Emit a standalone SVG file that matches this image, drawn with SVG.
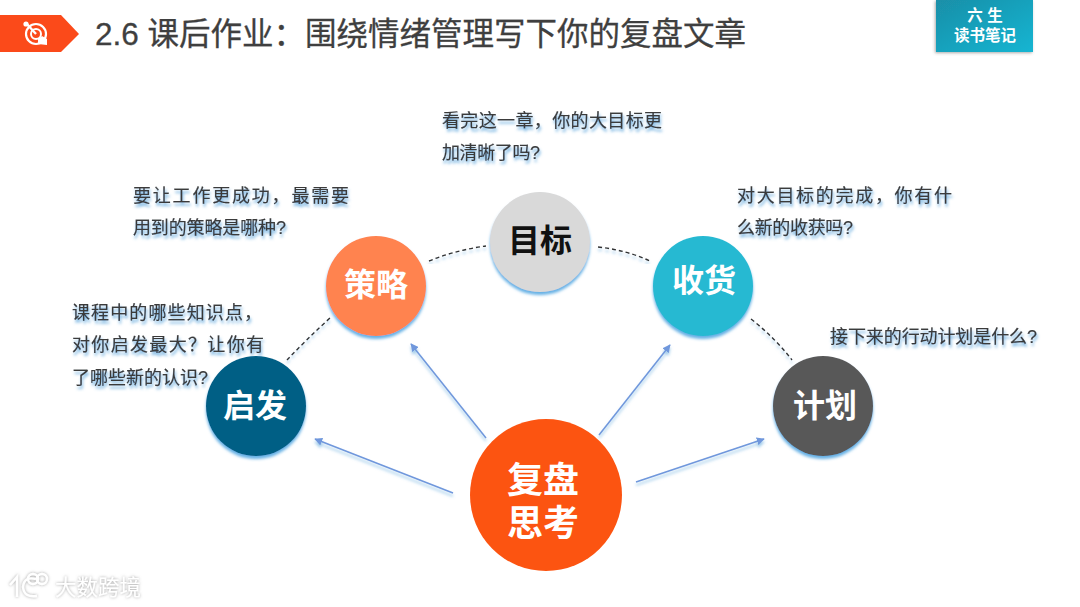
<svg xmlns="http://www.w3.org/2000/svg" width="1080" height="607" viewBox="0 0 1080 607">
<style>
text{font-family:"Liberation Sans","Noto Sans CJK SC",sans-serif}
.q{font-size:18px;fill:#3a3a3a;stroke:#3a3a3a;stroke-width:.2;filter:url(#ts)}
.n{font-size:32px;font-weight:700;fill:#fff;text-anchor:middle}
.dash{fill:none;stroke:#333;stroke-width:1.4;stroke-dasharray:4 3;filter:url(#ls)}
.arr{fill:none;stroke:#6f97dc;stroke-width:1.5;marker-end:url(#ah);filter:url(#ls)}
</style>
<defs>
<filter id="ts" x="-10%" y="-30%" width="120%" height="170%"><feDropShadow dx="1" dy="3" stdDeviation="1.6" flood-color="#4a9bd8" flood-opacity=".8"/></filter>
<filter id="ls" x="-20%" y="-20%" width="140%" height="140%"><feDropShadow dx="0" dy="3" stdDeviation="1.6" flood-color="#5aa5dc" flood-opacity=".6"/></filter>
<filter id="cs" x="-20%" y="-20%" width="140%" height="140%"><feDropShadow dx="0" dy="3" stdDeviation="1.6" flood-color="#4ba3e0" flood-opacity=".85"/></filter>
<filter id="ws" x="-20%" y="-30%" width="140%" height="160%"><feDropShadow dx="0" dy="0" stdDeviation="1.5" flood-color="#777" flood-opacity=".7"/></filter>
<filter id="bs" x="-10%" y="-10%" width="120%" height="125%"><feDropShadow dx="-1" dy="1" stdDeviation="1.5" flood-color="#555" flood-opacity=".5"/></filter>
<linearGradient id="bg" x1="0" y1="0" x2="1" y2="1"><stop offset="0" stop-color="#1a8fa8"/><stop offset="1" stop-color="#15b5d2"/></linearGradient>
<marker id="ah" viewBox="0 0 10 10" refX="9" refY="5" markerWidth="8" markerHeight="8" orient="auto" markerUnits="userSpaceOnUse"><path d="M0 0L10 5L0 10Z" fill="#6f97dc"/></marker>
</defs>
<rect width="1080" height="607" fill="#fff"/>
<g id="header">
<path d="M0 15H61L79 34L61 52H0Z" fill="#fb4a1a"/>
<g fill="none" stroke="#fff">
<circle cx="36" cy="34" r="10" stroke-width="2.2"/><circle cx="36" cy="34" r="5" stroke-width="2"/>
<path d="M26 23L36 34" stroke-width="2.4"/>
</g>
<circle cx="26" cy="24" r="2.6" fill="#fff"/>
<path d="M38 44V39L42 36L47 39V45Z" fill="#fff"/>
<text x="95" y="45" font-size="31.5" fill="#3f3f3f" stroke="#3f3f3f" stroke-width=".3">2.6 课后作业：围绕情绪管理写下你的复盘文章</text>
</g>
<g id="badge">
<rect x="936" y="0" width="97" height="52" fill="url(#bg)" filter="url(#bs)"/>
<text x="985" y="21" font-size="15.5" font-weight="700" fill="#fff" text-anchor="middle">六 生</text>
<text x="985" y="41" font-size="15.5" font-weight="700" fill="#fff" text-anchor="middle">读书笔记</text>
</g>
<g id="connectors">
<path class="dash" d="M429 261Q456 250 486 246"/>
<path class="dash" d="M287 360Q306 340 330 318"/>
<path class="dash" d="M598 247Q626 250 650 261"/>
<path class="dash" d="M751 319Q775 338 792 360"/>
<path class="arr" d="M486 438L411 344"/>
<path class="arr" d="M540 416V309"/>
<path class="arr" d="M599 435L670 345"/>
<path class="arr" d="M636 482L764 439"/>
<path class="arr" d="M453 493L315 439"/>
</g>
<g id="node-goal"><circle cx="540" cy="242" r="50" fill="#d9d9d9" filter="url(#cs)"/><text class="n" x="540" y="252" style="fill:#111">目标</text></g>
<g id="node-strategy"><circle cx="376" cy="286" r="50" fill="#ff8350" filter="url(#cs)"/><text class="n" x="376" y="296">策略</text></g>
<g id="node-inspire"><circle cx="256" cy="406" r="50" fill="#045e85" filter="url(#cs)"/><text class="n" x="255" y="417">启发</text></g>
<g id="node-gain"><circle cx="703" cy="286" r="50" fill="#27b9d2" filter="url(#cs)"/><text class="n" x="704" y="292">收货</text></g>
<g id="node-plan"><circle cx="823" cy="406" r="50" fill="#595959" filter="url(#cs)"/><text class="n" x="825" y="417">计划</text></g>
<g id="node-center"><circle cx="546" cy="495" r="76" fill="#fc5411"/><text class="n" style="font-size:36px" x="543" y="493">复盘</text><text class="n" style="font-size:36px" x="543" y="536">思考</text></g>
<g id="q-goal"><text class="q" x="442" y="127" textLength="220">看完这一章，你的大目标更</text><text class="q" x="442" y="159" textLength="98">加清晰了吗?</text></g>
<g id="q-strategy"><text class="q" x="133" y="202" textLength="216">要让工作更成功，最需要</text><text class="q" x="133" y="234" textLength="153">用到的策略是哪种?</text></g>
<g id="q-inspire"><text class="q" x="72" y="319" textLength="190">课程中的哪些知识点，</text><text class="q" x="72" y="351" textLength="192">对你启发最大？让你有</text><text class="q" x="72" y="384" textLength="136">了哪些新的认识?</text></g>
<g id="q-gain"><text class="q" x="737" y="202" textLength="215">对大目标的完成，你有什</text><text class="q" x="737" y="234" textLength="116">么新的收获吗?</text></g>
<g id="q-plan"><text class="q" x="830" y="343" textLength="207">接下来的行动计划是什么?</text></g>
<g id="watermark" filter="url(#ws)">
<g fill="none" stroke="#fff" stroke-width="2.4">
<path d="M10 585L17 577V597"/><path d="M36 579Q24 576 23 587Q24 598 37 596"/>
<circle cx="33" cy="579" r="5"/><circle cx="42" cy="579" r="5"/>
</g>
<text x="55" y="595" font-size="21.5" fill="#fff">大数跨境</text>
</g>
</svg>
